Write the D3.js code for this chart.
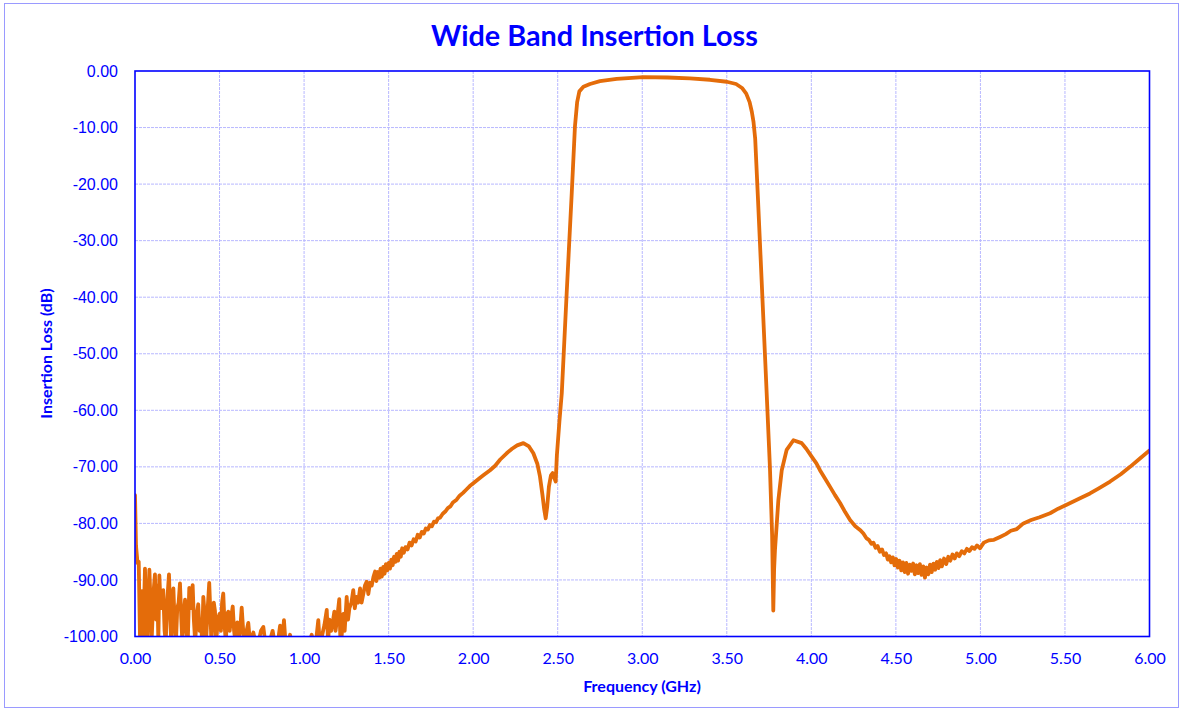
<!DOCTYPE html>
<html>
<head>
<meta charset="utf-8">
<script src="https://cdn.jsdelivr.net/npm/d3@7"></script>
<style>
  html, body { margin: 0; padding: 0; background: #fff; }
  svg { display: block; }
</style>
</head>
<body>
<svg id="chart" width="1179" height="711"></svg>
<script>
// ---- data ----
const chartTitle = "Wide Band Insertion Loss";
const xAxisTitle = "Frequency (GHz)";
const yAxisTitle = "Insertion Loss (dB)";
const xTicks = [0, 0.5, 1, 1.5, 2, 2.5, 3, 3.5, 4, 4.5, 5, 5.5, 6];
const yTicks = [0, -10, -20, -30, -40, -50, -60, -70, -80, -90, -100];

// [frequency GHz, insertion loss dB]
const lowBandNoise = [
  [0.000,-75.0],[0.006,-84.0],[0.015,-87.0],[0.022,-86.8],[0.030,-101],[0.040,-92.0],[0.048,-101],[0.059,-88.0],
  [0.066,-96.0],[0.072,-101],[0.085,-88.2],[0.092,-94.0],[0.098,-101],[0.110,-92.0],[0.118,-89.0],[0.125,-97.0],
  [0.132,-91.0],[0.138,-101],[0.144,-89.2],[0.152,-95.0],[0.160,-93.0],[0.167,-91.8],[0.175,-99.0],[0.182,-101],
  [0.190,-94.0],[0.201,-89.0],[0.208,-96.0],[0.214,-101],[0.222,-93.0],[0.227,-91.5],[0.235,-98.0],[0.242,-101],
  [0.250,-95.0],[0.258,-94.0],[0.266,-90.6],[0.274,-97.0],[0.280,-101],[0.288,-96.0],[0.296,-93.5],[0.304,-99.0],
  [0.312,-101],[0.321,-91.4],[0.328,-95.0],[0.334,-94.0],[0.341,-90.9],[0.348,-97.0],[0.356,-101],[0.366,-96.0],
  [0.374,-94.3],[0.382,-99.0],[0.390,-97.0],[0.397,-101],[0.404,-93.0],[0.412,-96.0],[0.420,-101],[0.430,-95.0],
  [0.439,-90.5],[0.446,-96.0],[0.452,-101],[0.460,-96.0],[0.466,-94.0],[0.473,-95.5],[0.480,-101],[0.490,-97.0],
  [0.500,-96.0],[0.508,-99.0],[0.515,-94.0],[0.522,-92.4],[0.530,-98.0],[0.537,-101],[0.545,-96.0],[0.552,-95.6],
  [0.560,-99.0],[0.567,-97.0],[0.578,-94.7],[0.586,-99.0],[0.594,-101],[0.605,-97.5],[0.615,-101],[0.624,-98.0],
  [0.631,-94.9],[0.640,-99.0],[0.648,-101],[0.660,-99.0],[0.670,-97.6],[0.680,-101],[0.700,-99.3],[0.712,-101],
  [0.730,-101],[0.745,-99.0],[0.759,-98.3],[0.770,-101],[0.790,-101],[0.805,-100.0],[0.814,-99.0],[0.825,-101],
  [0.845,-101],[0.858,-98.1],[0.868,-101],[0.876,-99.0],[0.881,-97.1],[0.890,-101],[0.905,-101],[0.917,-99.7],
  [0.925,-101],[0.950,-103],[1.000,-104],[1.030,-101],[1.045,-99.7],[1.055,-101],[1.070,-101],[1.084,-97.1],
  [1.092,-101],[1.105,-100.0],[1.120,-98.0],[1.134,-95.3],[1.142,-101],[1.150,-97.0],[1.160,-99.0],[1.172,-97.0],
  [1.179,-95.6],[1.186,-99.0],[1.195,-97.0],[1.208,-93.4],[1.215,-101],[1.222,-100.0],[1.232,-96.0],[1.240,-99.0],
  [1.252,-93.0],[1.260,-97.0],[1.268,-95.0],[1.280,-94.0],[1.291,-91.8],[1.300,-95.0],[1.310,-93.0],[1.320,-94.0],
  [1.331,-91.5],[1.340,-94.0],[1.350,-92.5],[1.360,-91.0],[1.370,-90.3],[1.380,-92.5],[1.390,-90.5]
];
const lowerSkirt = [
  [1.400,-91.0],[1.410,-89.5],[1.420,-88.5],[1.428,-90.2],[1.436,-88.6],[1.445,-89.6],[1.452,-88.0],[1.460,-89.4],
  [1.468,-87.7],[1.476,-88.9],[1.484,-87.2],[1.492,-88.3],[1.500,-87.0],[1.508,-88.0],[1.516,-86.4],[1.524,-87.4],
  [1.532,-85.9],[1.540,-86.8],[1.548,-85.4],[1.556,-86.6],[1.564,-85.0],[1.572,-85.9],[1.580,-84.4],[1.590,-85.2],
  [1.600,-84.2],[1.612,-84.6],[1.624,-83.4],[1.636,-83.9],[1.648,-82.8],[1.660,-83.2],[1.672,-82.0],[1.684,-82.5],
  [1.696,-81.5],[1.708,-81.8],[1.720,-80.9],[1.732,-81.1],[1.744,-80.3],[1.756,-80.5],[1.768,-79.7],[1.780,-79.8],
  [1.792,-79.1],[1.804,-79.0],[1.820,-78.3],[1.835,-77.9],[1.850,-77.3],[1.865,-77.0],[1.880,-76.3],[1.902,-75.8],
  [1.920,-75.1],[1.940,-74.6],[1.960,-74.0],[1.980,-73.4],[2.001,-72.9],[2.030,-72.2],[2.060,-71.5],[2.100,-70.6],
  [2.130,-69.8],[2.160,-68.7],[2.198,-67.6],[2.230,-66.8],[2.260,-66.2],[2.297,-65.8],[2.330,-66.4],[2.356,-67.6],
  [2.380,-69.5],[2.395,-71.7],[2.410,-75.0],[2.420,-77.5],[2.429,-79.1],[2.438,-77.0],[2.448,-73.5],[2.460,-71.5],
  [2.470,-71.1],[2.480,-72.0],[2.488,-72.6]
];
const passband = [
  [2.495,-68.0],[2.510,-62.0],[2.524,-57.0],[2.553,-39.3],[2.583,-21.6],[2.602,-9.8],[2.615,-5.5],[2.628,-3.6],
  [2.652,-2.8],[2.691,-2.3],[2.750,-1.8],[2.849,-1.4],[3.006,-1.1],[3.150,-1.15],[3.282,-1.3],[3.400,-1.55],
  [3.500,-1.9],[3.555,-2.3],[3.590,-3.0],[3.615,-4.0],[3.635,-5.5],[3.648,-7.2],[3.658,-9.0],[3.668,-12.0],
  [3.685,-23.0],[3.700,-33.0],[3.730,-53.0],[3.755,-70.0],[3.768,-82.0],[3.775,-95.4]
];
const upperSkirt = [
  [3.780,-88.0],[3.785,-84.7],[3.805,-75.9],[3.825,-70.6],[3.854,-67.0],[3.894,-65.3],[3.943,-65.8],[3.970,-66.8],
  [4.002,-68.2],[4.030,-69.4],[4.051,-70.6],[4.080,-72.0],[4.110,-73.5],[4.140,-75.0],[4.170,-76.4],[4.200,-78.0],
  [4.229,-79.4],[4.260,-80.5],[4.290,-81.2],[4.308,-81.8],[4.325,-82.6],[4.340,-82.9],[4.355,-83.6],[4.367,-83.4],
  [4.380,-84.3],[4.392,-84.0],[4.405,-85.0],[4.418,-84.6],[4.430,-85.6],[4.442,-85.3],[4.452,-86.4],[4.462,-85.8],
  [4.472,-86.9],[4.482,-86.0],[4.492,-87.4],[4.502,-86.3],[4.512,-87.8],[4.522,-86.6],[4.532,-88.3],[4.542,-86.9],
  [4.552,-88.6],[4.562,-87.0],[4.572,-88.9],[4.582,-87.3],[4.592,-88.4],[4.602,-87.1],[4.612,-89.0],[4.622,-87.4],
  [4.632,-88.8],[4.642,-87.2],[4.652,-89.1],[4.662,-87.6],[4.672,-89.6],[4.682,-87.8],[4.692,-89.0],[4.702,-87.3],
  [4.712,-88.6],[4.722,-87.1],[4.732,-88.2],[4.742,-86.8],[4.752,-87.9],[4.762,-86.5],[4.772,-87.6],[4.785,-86.2],
  [4.798,-87.2],[4.810,-85.9],[4.822,-86.6],[4.835,-85.5],[4.848,-86.2],[4.860,-85.3],[4.875,-85.8],[4.890,-84.9],
  [4.905,-85.3],[4.920,-84.5],[4.935,-84.9],[4.950,-84.2],[4.965,-84.5],[4.980,-83.9],[4.998,-84.4],[5.020,-83.4],
  [5.050,-83.0],[5.080,-82.9],[5.116,-82.4],[5.150,-81.9],[5.180,-81.3],[5.215,-81.0],[5.254,-80.0],[5.300,-79.4],
  [5.350,-78.9],[5.412,-78.2],[5.460,-77.4],[5.510,-76.7],[5.580,-75.7],[5.648,-74.7],[5.700,-73.8],[5.767,-72.6],
  [5.830,-71.3],[5.885,-70.0],[5.940,-68.6],[6.000,-67.1]
];

// ---- layout ----
const W = 1179, H = 711;
const plot = { left: 135, top: 71, right: 1149.5, bottom: 636.5 };
const blue = "#0000ff";

const svg = d3.select("#chart");

svg.append("rect")
  .attr("x", 4.5).attr("y", 3.5)
  .attr("width", W - 5).attr("height", H - 7)
  .attr("fill", "#fff").attr("stroke", "#9a9aff").attr("stroke-width", 1);

const x = d3.scaleLinear().domain([0, 6]).range([plot.left, plot.right]);
const y = d3.scaleLinear().domain([-100, 0]).range([plot.bottom, plot.top]);

const grid = svg.append("g");
grid.selectAll("line.v").data(xTicks.slice(1, -1)).enter().append("line")
  .attr("x1", d => x(d)).attr("x2", d => x(d))
  .attr("y1", plot.top).attr("y2", plot.bottom)
  .attr("stroke", "#b8b8ff").attr("stroke-width", 1).attr("stroke-dasharray", "3,1");
grid.selectAll("line.h").data(yTicks.slice(1, -1)).enter().append("line")
  .attr("y1", d => y(d)).attr("y2", d => y(d))
  .attr("x1", plot.left).attr("x2", plot.right)
  .attr("stroke", "#b8b8ff").attr("stroke-width", 1).attr("stroke-dasharray", "3,1");

svg.append("clipPath").attr("id", "clip").append("rect")
  .attr("x", plot.left).attr("y", plot.top)
  .attr("width", plot.right - plot.left).attr("height", plot.bottom - plot.top);

const data = [].concat(lowBandNoise, lowerSkirt, passband, upperSkirt);
const line = d3.line().x(d => x(d[0])).y(d => y(d[1]));
svg.append("path")
  .datum(data)
  .attr("clip-path", "url(#clip)")
  .attr("d", line)
  .attr("fill", "none")
  .attr("stroke", "#e46c0a")
  .attr("stroke-width", 3.8)
  .attr("stroke-linejoin", "round")
  .attr("stroke-linecap", "round");

svg.append("rect")
  .attr("x", plot.left).attr("y", plot.top)
  .attr("width", plot.right - plot.left).attr("height", plot.bottom - plot.top)
  .attr("fill", "none").attr("stroke", blue).attr("stroke-width", 1.6);

const fmt = d => d3.format(".2f")(d).replace("\u2212", "-");

const xAxis = d3.axisBottom(x).tickValues(xTicks).tickSize(0).tickPadding(16).tickFormat(fmt);
const gx = svg.append("g").attr("transform", `translate(0,${plot.bottom})`).call(xAxis);
gx.select(".domain").remove();
gx.selectAll("text").attr("fill", blue).attr("font-family", "Lato, 'Open Sans', sans-serif")
  .attr("font-size", 16);

const yAxis = d3.axisLeft(y).tickValues(yTicks).tickSize(0).tickPadding(17).tickFormat(fmt);
const gy = svg.append("g").attr("transform", `translate(${plot.left},0)`).call(yAxis);
gy.select(".domain").remove();
gy.selectAll("text").attr("fill", blue).attr("font-family", "'Liberation Sans', Arial, sans-serif")
  .attr("font-size", 16);

svg.append("text")
  .attr("x", 594.5).attr("y", 46)
  .attr("text-anchor", "middle")
  .attr("font-family", "Lato, 'Open Sans', sans-serif")
  .attr("font-weight", "bold").attr("font-size", 28.8)
  .attr("fill", blue).text(chartTitle);

svg.append("text")
  .attr("x", 642).attr("y", 692)
  .attr("text-anchor", "middle")
  .attr("font-family", "Lato, 'Open Sans', sans-serif")
  .attr("font-weight", "bold").attr("font-size", 16)
  .attr("fill", blue).text(xAxisTitle);

svg.append("text")
  .attr("transform", "translate(52,353.5) rotate(-90)")
  .attr("text-anchor", "middle")
  .attr("font-family", "Lato, 'Open Sans', sans-serif")
  .attr("font-weight", "bold").attr("font-size", 16)
  .attr("fill", blue).text(yAxisTitle);
</script>
</body>
</html>
